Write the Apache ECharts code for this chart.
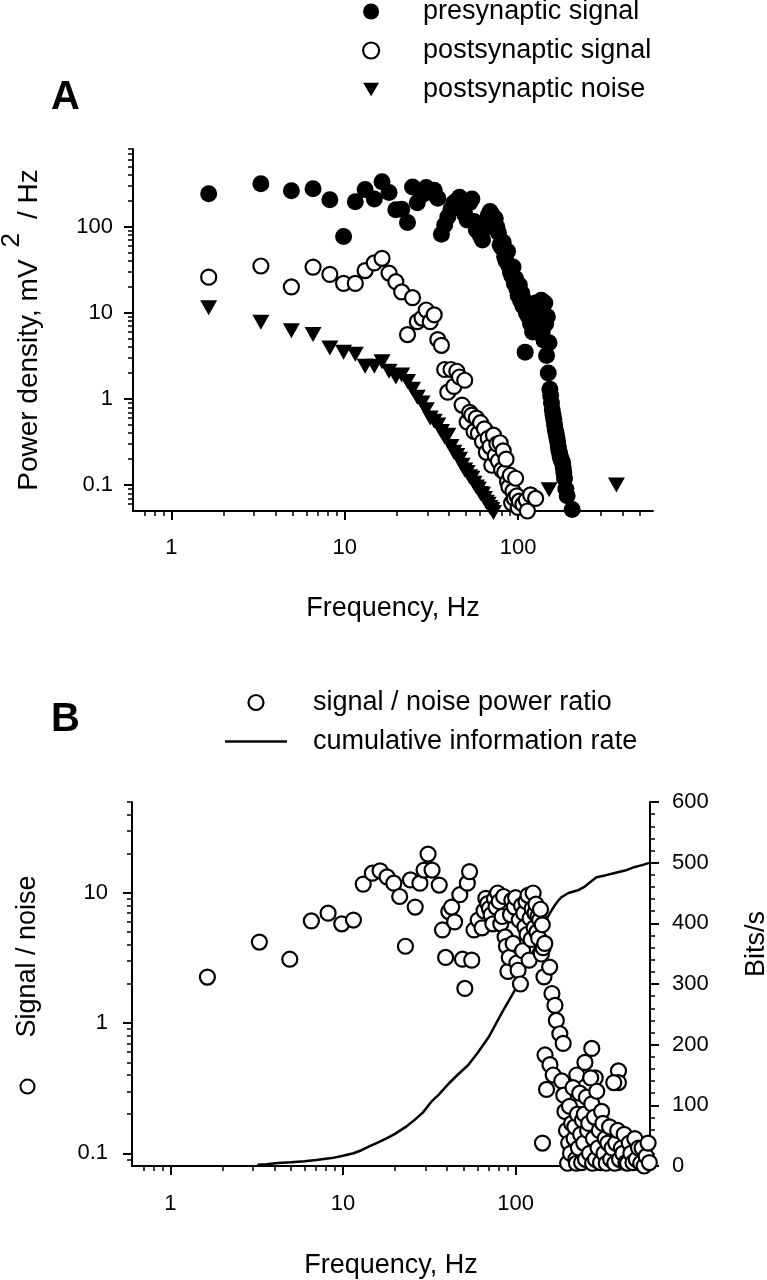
<!DOCTYPE html>
<html><head><meta charset="utf-8">
<script src="https://cdn.jsdelivr.net/npm/echarts@6/dist/echarts.min.js"></script>
<style>html,body{margin:0;padding:0;background:#fff}#c{width:767px;height:1280px}</style>
</head><body><div id="c"></div>
<script>
// ---------- Panel A data: [frequency Hz, power density mV^2/Hz] ----------
const presynapticSignal = [[1.64,242],[3.28,316],[4.92,262],[6.56,277],[8.20,206],[9.84,77],[11.5,195],[13.1,270],[14.8,210],[16.4,333],[18.0,250],[19.7,158],[21.3,160],[23.0,112],[24.6,290],[26.2,190],[27.9,235],[29.5,285],[31.1,250],[32.8,265],[34.4,215],[36.1,82],[37.7,105],[39.3,130],[41.0,160],[42.6,190],[44.3,200],[45.9,220],[47.5,185],[49.2,140],[50.8,120],[52.5,190],[54.1,210],[55.7,115],[57.4,92],[59.0,88],[60.7,78],[62.3,70],[63.9,95],[65.6,115],[67.2,135],[68.9,150],[70.5,140],[72.1,105],[73.8,125],[75.4,100],[77.0,85],[78.7,62],[80.3,58],[82.0,66],[83.6,45],[85.2,40],[86.9,52],[88.5,35],[90.2,30],[91.8,27],[93.4,34],[95.1,22],[96.7,25],[98.4,19],[100.0,16],[101.6,21],[103.3,14],[104.9,17],[106.6,12],[108.2,14],[109.8,3.5],[111.5,10],[113.1,12],[114.8,9],[116.4,11],[118.0,7.5],[119.7,9.5],[121.3,6],[123.0,11],[124.6,8],[126.2,13],[127.9,7],[129.5,10],[131.1,6.5],[132.8,12],[134.4,8],[136.0,14],[137.7,6],[139.3,10],[141.0,4.8],[142.6,13],[144.3,7.5],[145.9,3.2],[147.5,9],[149.2,2.0],[150.8,4.5],[152.5,1.3],[154.1,1.1],[155.7,0.9],[157.4,0.75],[159.0,0.65],[160.7,0.58],[162.3,0.5],[163.9,0.44],[165.6,0.4],[167.2,0.36],[168.9,0.32],[170.5,0.28],[172.1,0.25],[173.8,0.23],[175.4,0.21],[177.0,0.2],[178.7,0.19],[180.3,0.18],[182.0,0.16],[183.6,0.14],[185.2,0.12],[188.5,0.09],[191.8,0.075],[205.0,0.052]];

const postsynapticSignal = [[1.64,26],[3.28,35],[4.92,20],[6.56,34],[8.20,28],[9.84,22],[11.5,22],[13.1,31],[14.8,38],[16.4,43],[18.0,29],[19.7,23],[21.3,17.5],[23.0,5.6],[24.6,15],[26.2,7.9],[27.9,8.7],[29.5,10.8],[31.1,7.9],[32.8,9.5],[34.4,4.9],[36.1,4.2],[37.7,2.2],[39.3,1.2],[41.0,2.2],[42.6,1.4],[44.3,2.1],[45.9,1.8],[47.5,0.85],[49.2,1.65],[50.8,0.54],[52.5,0.7],[54.1,0.65],[55.7,0.42],[57.4,0.6],[59.0,0.4],[60.7,0.53],[62.3,0.32],[63.9,0.45],[65.6,0.24],[67.2,0.35],[68.9,0.28],[70.5,0.17],[72.1,0.38],[73.8,0.22],[75.4,0.3],[77.0,0.19],[78.7,0.31],[80.3,0.15],[82.0,0.25],[83.6,0.14],[85.2,0.2],[86.9,0.11],[88.5,0.095],[90.2,0.13],[91.8,0.062],[93.4,0.085],[95.1,0.07],[96.7,0.12],[98.4,0.075],[100.0,0.055],[101.6,0.065],[106.6,0.06],[111.5,0.067],[113.1,0.05],[118.0,0.077],[126.2,0.07]];

const postsynapticNoise = [[1.64,11.5],[3.28,7.8],[4.92,6.2],[6.56,5.6],[8.20,3.9],[9.84,3.5],[11.5,3.3],[13.1,2.4],[14.8,2.4],[16.4,2.7],[18.0,2.1],[19.7,1.8],[21.3,1.9],[23.0,1.6],[24.6,1.3],[26.2,1.05],[27.9,0.9],[29.5,0.75],[31.1,0.6],[32.8,0.55],[34.4,0.5],[36.1,0.42],[37.7,0.36],[39.3,0.38],[41.0,0.28],[42.6,0.24],[44.3,0.22],[45.9,0.2],[47.5,0.17],[49.2,0.15],[50.8,0.14],[52.5,0.125],[54.1,0.12],[55.7,0.105],[57.4,0.095],[59.0,0.09],[60.7,0.08],[62.3,0.078],[63.9,0.07],[65.6,0.063],[67.2,0.06],[68.9,0.055],[70.5,0.052],[72.1,0.048],[151,0.088],[369,0.1]];

// ---------- Panel B data ----------
const signalNoiseRatio = [[1.64,2.26],[3.28,4.2],[4.92,3.1],[6.56,6.1],[8.2,7.0],[9.84,5.8],[11.5,6.2],[13.1,11.7],[14.8,14.2],[16.4,14.8],[18.0,13.3],[19.7,11.9],[21.3,9.4],[23.0,3.9],[24.6,12.6],[26.2,7.8],[27.9,11.9],[29.5,15],[31.1,19.9],[32.8,15],[36.1,11.5],[37.7,5.2],[39.3,3.2],[41.0,7.2],[42.6,7.8],[44.3,6.0],[47.5,9.7],[49.2,3.1],[50.8,1.85],[52.5,11.9],[54.1,14.6],[55.7,3.05],[57.4,5.2],[60.7,6.2],[63.9,5.4],[65.6,7.3],[67.2,9.1],[68.9,8.3],[70.5,7.6],[72.1,6.8],[73.8,5.8],[75.4,9.0],[77.0,7.8],[78.7,10],[80.3,8.6],[82.0,5.8],[83.6,6.6],[85.2,9.4],[86.9,4.6],[88.5,3.9],[90.2,2.5],[91.8,3.2],[93.4,6.8],[95.1,8.8],[96.7,4.1],[98.4,7.8],[100.0,9.2],[101.6,2.9],[103.3,2.55],[104.9,6.2],[106.6,2.0],[108.2,8.0],[109.8,3.6],[111.5,7.0],[113.1,5.5],[114.8,8.6],[116.4,4.8],[118.0,9.6],[119.7,3.05],[121.3,6.4],[123.0,4.4],[124.6,7.6],[126.2,10],[127.9,5.4],[129.5,7.0],[131.1,8.2],[132.8,5.0],[134.4,6.6],[136.0,4.5],[137.7,6.2],[139.3,7.5],[141.0,3.4],[142.6,5.7],[144.3,3.8],[145.9,2.27],[147.5,4.1],[157.4,2.7],[162.3,1.69],[168.9,1.37],[172.1,1.05],[180.3,0.83],[188.5,0.70],[148,0.57],[158,0.48],[165,0.40],[185,0.36],[151,0.31],[143,0.12],[226,0.40],[252,0.50],[276,0.64],[289,0.38],[394,0.43],[394,0.35],[190,0.28],[193,0.21],[197,0.15],[200,0.084],[203,0.12],[205,0.23],[208,0.1],[211,0.17],[215,0.32],[218,0.13],[220,0.16],[223,0.09],[225,0.084],[228,0.2],[231,0.11],[235,0.29],[238,0.14],[241,0.085],[244,0.18],[248,0.12],[250,0.2],[254,0.09],[257,0.27],[261,0.15],[265,0.17],[268,0.1],[272,0.38],[276,0.24],[279,0.084],[282,0.13],[286,0.19],[290,0.09],[295,0.3],[300,0.11],[305,0.15],[310,0.085],[315,0.21],[320,0.17],[325,0.1],[330,0.13],[335,0.084],[342,0.12],[350,0.16],[355,0.09],[362,0.11],[370,0.35],[375,0.084],[380,0.12],[390,0.15],[400,0.09],[410,0.11],[418,0.1],[425,0.14],[435,0.085],[445,0.084],[455,0.12],[465,0.1],[478,0.085],[490,0.13],[500,0.09],[515,0.11],[530,0.084],[540,0.11],[555,0.08],[570,0.095],[585,0.12],[595,0.085]];

const informationRate = [[3.2,2],[3.6,3],[4.2,5],[5,6],[6,8],[7,10],[8.6,13],[10,17],[11.5,21],[12.8,26],[14.4,33],[16,39],[18,46],[20,53],[23,64],[26,76],[29,88],[32.5,106],[36,118],[41,136],[46,150],[53,166],[60,186],[70,213],[83,252],[99,290],[113,328],[130,361],[147,400],[158,417],[167,428],[176,437],[184,443],[202,450],[232,455],[250,460],[265,466],[294,476],[330,479],[375,483],[430,487],[490,493],[540,496],[600,500]];

// ---------- Tick values ----------
const freqMajorTicks = [1, 10, 100];
const freqMinorTicks = [0.7,0.8,0.9,2,3,4,5,6,7,8,9,20,30,40,50,60,70,80,90,200,300,400,500];
const powerMajorTicks = [0.1, 1, 10, 100];
const powerMinorTicks = [0.06,0.07,0.08,0.09,0.2,0.3,0.4,0.5,0.6,0.7,0.8,0.9,2,3,4,5,6,7,8,9,20,30,40,50,60,70,80,90,200,300,400,500,600,700,800];
const snrMajorTicks = [0.1, 1, 10];
const snrMinorTicks = [0.09,0.2,0.3,0.4,0.5,0.6,0.7,0.8,0.9,2,3,4,5,6,7,8,9,20,30,40,50];

const FONT = 'Liberation Sans, Arial, Helvetica, sans-serif';
const BLACK = '#000';
const triDown = 'path://M0,0L20,0L10,17Z';
const lineIcon = 'path://M0,0L62,0L62,2.6L0,2.6Z';

function logAxis(gridIndex, position, min, max, major, margin, opts) {
  return Object.assign({
    type: 'log', logBase: 10, gridIndex, position, min, max,
    axisLine: {show: true, onZero: false, lineStyle: {color: BLACK, width: 2}},
    axisTick: {show: true, inside: false, length: 9, lineStyle: {color: BLACK, width: 2}, customValues: major},
    axisLabel: {show: true, customValues: major, margin, color: BLACK, fontSize: 22, fontFamily: FONT, formatter: v => String(v)},
    splitLine: {show: false}, minorSplitLine: {show: false}
  }, opts || {});
}
function minorAxis(gridIndex, position, min, max, minor) {
  return {
    type: 'log', logBase: 10, gridIndex, position, min, max, silent: true,
    axisLine: {show: false, onZero: false},
    axisTick: {show: true, inside: false, length: 5, lineStyle: {color: BLACK, width: 1.5}, customValues: minor},
    axisLabel: {show: false},
    splitLine: {show: false}, minorSplitLine: {show: false}
  };
}
const openCircle = {color: '#fff', borderColor: BLACK, borderWidth: 2.2, opacity: 1};
const solid = {color: BLACK, opacity: 1};

const option = {
  animation: false,
  backgroundColor: '#fff',
  textStyle: {fontFamily: FONT, color: BLACK},
  grid: [
    {left: 133, right: 114, top: 149, height: 362, outerBoundsMode: 'none', containLabel: false},
    {left: 132, right: 117, top: 802, height: 364, outerBoundsMode: 'none', containLabel: false}
  ],
  xAxis: [
    logAxis(0, 'bottom', 0.6, 600, freqMajorTicks, 26, {
      name: 'Frequency, Hz', nameLocation: 'middle', nameGap: 84,
      nameTextStyle: {fontSize: 27, color: BLACK, fontFamily: FONT}
    }),
    minorAxis(0, 'bottom', 0.6, 600, freqMinorTicks),
    logAxis(1, 'bottom', 0.6, 600, freqMajorTicks, 27, {
      name: 'Frequency, Hz', nameLocation: 'middle', nameGap: 86,
      nameTextStyle: {fontSize: 27, color: BLACK, fontFamily: FONT}
    }),
    minorAxis(1, 'bottom', 0.6, 600, freqMinorTicks)
  ],
  yAxis: [
    logAxis(0, 'left', 0.05, 800, powerMajorTicks, 20, {
      name: '{t|Power density, mV}{s|2}{t|/ Hz}', nameLocation: 'middle', nameGap: 90, nameRotate: 90,
      nameTextStyle: {
        color: BLACK, fontFamily: FONT,
        rich: {
          t: {fontSize: 28, lineHeight: 44, verticalAlign: 'bottom', fontFamily: FONT, color: BLACK},
          s: {fontSize: 26, lineHeight: 26, verticalAlign: 'top', padding: [0, 14, 0, 12], fontFamily: FONT, color: BLACK}
        }
      }
    }),
    minorAxis(0, 'left', 0.05, 800, powerMinorTicks),
    logAxis(1, 'left', 0.08, 50, snrMajorTicks, 24, {
      name: '{c| }{g| }{t|Signal / noise}', nameLocation: 'middle', nameGap: 91, nameRotate: 90,
      nameTextStyle: {
        color: BLACK, fontFamily: FONT,
        rich: {
          c: {width: 12, height: 12, borderRadius: 7, borderWidth: 2, borderColor: BLACK, backgroundColor: '#fff'},
          g: {width: 43},
          t: {fontSize: 27, lineHeight: 27, fontFamily: FONT, color: BLACK}
        }
      }
    }),
    minorAxis(1, 'left', 0.08, 50, snrMinorTicks),
    {
      type: 'value', gridIndex: 1, position: 'right', min: 0, max: 600, interval: 100,
      axisLine: {show: true, onZero: false, lineStyle: {color: BLACK, width: 2}},
      axisTick: {show: true, inside: false, length: 9, lineStyle: {color: BLACK, width: 2}},
      minorTick: {show: true, splitNumber: 5, length: 5, lineStyle: {color: BLACK, width: 1.5}},
      axisLabel: {show: true, color: BLACK, fontSize: 22, fontFamily: FONT, margin: 22},
      splitLine: {show: false}, minorSplitLine: {show: false},
      name: 'Bits/s', nameLocation: 'middle', nameGap: 93, nameRotate: 90,
      nameTextStyle: {fontSize: 27, color: BLACK, fontFamily: FONT, padding: [0, 0, 0, 80]}
    }
  ],
  legend: [
    {
      orient: 'vertical', left: 362, top: -2, padding: 0, itemGap: 12,
      itemWidth: 16, itemHeight: 16, selectedMode: false,
      textStyle: {fontSize: 27, lineHeight: 26, fontFamily: FONT, color: BLACK, padding: [0, 0, 0, 39]},
      data: [
        {name: 'presynaptic signal', icon: 'circle', itemStyle: solid},
        {name: 'postsynaptic signal', icon: 'circle', itemStyle: openCircle},
        {name: 'postsynaptic noise', icon: triDown, itemStyle: solid}
      ]
    },
    {
      orient: 'vertical', left: 225, top: 689, padding: 0, itemGap: 12,
      itemWidth: 62, itemHeight: 15, selectedMode: false,
      textStyle: {fontSize: 27, lineHeight: 26, fontFamily: FONT, color: BLACK, padding: [0, 0, 0, 21]},
      data: [
        {name: 'signal / noise power ratio', icon: 'circle', itemStyle: openCircle},
        {name: 'cumulative information rate', icon: lineIcon, itemStyle: solid}
      ]
    }
  ],
  graphic: [
    {type: 'text', left: 51, top: 78, style: {text: 'A', font: 'bold 40px ' + FONT, fill: BLACK}},
    {type: 'text', left: 51, top: 700, style: {text: 'B', font: 'bold 40px ' + FONT, fill: BLACK}}
  ],
  series: [
    {type: 'scatter', name: 'postsynaptic noise', xAxisIndex: 0, yAxisIndex: 0, data: postsynapticNoise,
     symbol: triDown, symbolSize: [17, 15], itemStyle: solid, clip: false, z: 2, emphasis: {disabled: true}},
    {type: 'scatter', name: 'postsynaptic signal', xAxisIndex: 0, yAxisIndex: 0, data: postsynapticSignal,
     symbol: 'circle', symbolSize: 15, itemStyle: openCircle, clip: false, z: 3, emphasis: {disabled: true}},
    {type: 'scatter', name: 'presynaptic signal', xAxisIndex: 0, yAxisIndex: 0, data: presynapticSignal,
     symbol: 'circle', symbolSize: 17, itemStyle: solid, clip: false, z: 4, emphasis: {disabled: true}},
    {type: 'line', name: 'cumulative information rate', xAxisIndex: 2, yAxisIndex: 4, data: informationRate,
     symbol: 'none', showSymbol: false, smooth: false, lineStyle: {color: BLACK, width: 2.5}, itemStyle: solid, z: 2, emphasis: {disabled: true}},
    {type: 'scatter', name: 'signal / noise power ratio', xAxisIndex: 2, yAxisIndex: 2, data: signalNoiseRatio,
     symbol: 'circle', symbolSize: 15, itemStyle: openCircle, clip: false, z: 3, emphasis: {disabled: true}}
  ]
};
const chart = echarts.init(document.getElementById('c'), null, {renderer: 'canvas'});
chart.setOption(option);
</script></body></html>
